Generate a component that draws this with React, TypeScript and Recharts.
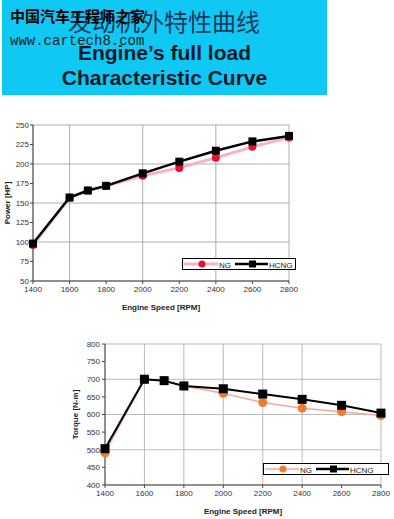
import React from 'react';
import { LineChart, Line, XAxis, YAxis, CartesianGrid, Legend, Label } from 'recharts';

const rpm = [1400, 1600, 1700, 1800, 2000, 2200, 2400, 2600, 2800];
const rpmTicks = [1400, 1600, 1800, 2000, 2200, 2400, 2600, 2800];

const powerNG = [96, 157, 166, 172, 185, 195, 208, 222, 234];
const powerHCNG = [98, 157, 166, 172, 188, 203, 217, 229, 236];
const powerTicks = [50, 75, 100, 125, 150, 175, 200, 225, 250];

const torqueNG = [491, 700, 696, 681, 660, 634, 618, 608, 597];
const torqueHCNG = [503, 700, 696, 681, 673, 658, 643, 626, 604];
const torqueTicks = [400, 450, 500, 550, 600, 650, 700, 750, 800];

const powerData = rpm.map((r, i) => ({ rpm: r, NG: powerNG[i], HCNG: powerHCNG[i] }));
const torqueData = rpm.map((r, i) => ({ rpm: r, NG: torqueNG[i], HCNG: torqueHCNG[i] }));

const FONT = 'Arial, "Liberation Sans", sans-serif';
const tickStyle = { fontSize: 8, fill: '#333', fontFamily: FONT };

const squareDot = (size: number) => (props: any) => {
  const { cx, cy, index } = props;
  return <rect key={`sq-${index}`} x={cx - size / 2} y={cy - size / 2} width={size} height={size} fill="#000" />;
};

const yTitle = (text: string, dx: number) => (props: any) => {
  const vb = props.viewBox;
  const x = vb.x + dx;
  const y = vb.y + vb.height / 2;
  return (
    <text x={x} y={y} transform={`rotate(-90 ${x} ${y})`} textAnchor="middle" dominantBaseline="central"
      style={{ fontSize: 8, fontWeight: 'bold', fill: '#222', fontFamily: FONT }}>
      {text}
    </text>
  );
};

const legendBox = (w: number, ngLine: string, ngDot: string, lineW: number) => () => (
  <div style={{ width: w, height: 12, border: '1px solid #000', background: '#fff', boxSizing: 'border-box' }}>
    <svg width={w - 2} height={10} style={{ display: 'block' }}>
      <line x1={1} y1={5} x2={35} y2={5} stroke={ngLine} strokeWidth={lineW} />
      <circle cx={19} cy={5} r={3.5} fill={ngDot} />
      <text x={36} y={8.5} style={{ fontSize: 8, fill: '#222', fontFamily: FONT }}>NG</text>
      <line x1={52} y1={5} x2={85} y2={5} stroke="#000" strokeWidth={2.5} />
      <rect x={66} y={1.5} width={7} height={7} fill="#000" />
      <text x={86} y={8.5} style={{ fontSize: 8, fill: '#222', fontFamily: FONT }}>HCNG</text>
    </svg>
  </div>
);

export default function App() {
  return (
    <div style={{ position: 'absolute', left: 0, top: 0, width: 394, height: 519, background: '#fff', overflow: 'hidden' }}>
      <div style={{ position: 'absolute', left: 2, top: 0, width: 325, height: 95, background: '#10c8f4' }}>
        <div style={{ position: 'absolute', left: 66, top: 6, fontSize: 24, color: '#1b3a5c', fontFamily: '"Noto Sans CJK SC"', lineHeight: '30px' }}>
          发动机外特性曲线
        </div>
        <div style={{ position: 'absolute', left: 8, top: 6, fontSize: 15, color: '#000', fontFamily: '"Noto Sans CJK SC"', fontWeight: 'bold', lineHeight: '20px' }}>
          中国汽车工程师之家
        </div>
        <div style={{ position: 'absolute', left: 8, top: 32, fontSize: 14, color: '#222', fontFamily: '"Liberation Mono", monospace', lineHeight: '18px' }}>
          www.cartech8.com
        </div>
        <div style={{ position: 'absolute', left: 0, width: 325, top: 40, textAlign: 'center', fontSize: 21, fontWeight: 'bold', color: '#0a1a2a', fontFamily: FONT, lineHeight: '25px' }}>
          Engine’s full load<br />Characteristic Curve
        </div>
      </div>

      <div style={{ position: 'absolute', left: 0, top: 115 }}>
        <LineChart width={300} height={200} data={powerData} margin={{ top: 10, right: 11, bottom: 4, left: 0 }}>
          <CartesianGrid stroke="#999" strokeWidth={0.8} />
          <XAxis dataKey="rpm" type="number" domain={[1400, 2800]} ticks={rpmTicks} height={30}
            tick={tickStyle} tickSize={3} tickMargin={2} stroke="#444">
            <Label value="Engine Speed [RPM]" position="insideBottom" offset={1}
              style={{ fontSize: 8, fontWeight: 'bold', fill: '#222', fontFamily: FONT }} />
          </XAxis>
          <YAxis domain={[50, 250]} ticks={powerTicks} width={33} tick={tickStyle} tickSize={3} tickMargin={1} stroke="#444"
            label={yTitle('Power [HP]', 7)} />
          <Line dataKey="NG" stroke="#f5b4bf" strokeWidth={3} isAnimationActive={false}
            dot={{ r: 4, fill: '#e6102c', stroke: 'none' }} />
          <Line dataKey="HCNG" stroke="#000" strokeWidth={2.5} isAnimationActive={false} dot={squareDot(8)} />
          <Legend layout="horizontal" verticalAlign="middle" content={legendBox(114, '#f5b4bf', '#e6102c', 3)}
            wrapperStyle={{ left: 182, top: 143, width: 114, height: 12 }} />
        </LineChart>
      </div>

      <div style={{ position: 'absolute', left: 60, top: 330 }}>
        <LineChart width={334} height={189} data={torqueData} margin={{ top: 14, right: 13, bottom: 4, left: 0 }}>
          <CartesianGrid stroke="#aaa" strokeWidth={0.8} />
          <XAxis dataKey="rpm" type="number" domain={[1400, 2800]} ticks={rpmTicks} height={30}
            tick={tickStyle} tickSize={3} tickMargin={2} stroke="#444">
            <Label value="Engine Speed [RPM]" position="insideBottom" offset={1}
              style={{ fontSize: 8, fontWeight: 'bold', fill: '#222', fontFamily: FONT }} />
          </XAxis>
          <YAxis domain={[400, 800]} ticks={torqueTicks} width={45} tick={tickStyle} tickSize={3} tickMargin={2} stroke="#444"
            label={yTitle('Torque [N-m]', 15)} />
          <Line dataKey="NG" stroke="#f2aa9c" strokeWidth={1.5} isAnimationActive={false}
            dot={{ r: 4.5, fill: '#f07a30', stroke: 'none' }} />
          <Line dataKey="HCNG" stroke="#000" strokeWidth={2} isAnimationActive={false} dot={squareDot(9)} />
          <Legend layout="horizontal" verticalAlign="middle" content={legendBox(126, '#f2aa9c', '#f07a30', 1.5)}
            wrapperStyle={{ left: 203, top: 133, width: 126, height: 13 }} />
        </LineChart>
      </div>
    </div>
  );
}
